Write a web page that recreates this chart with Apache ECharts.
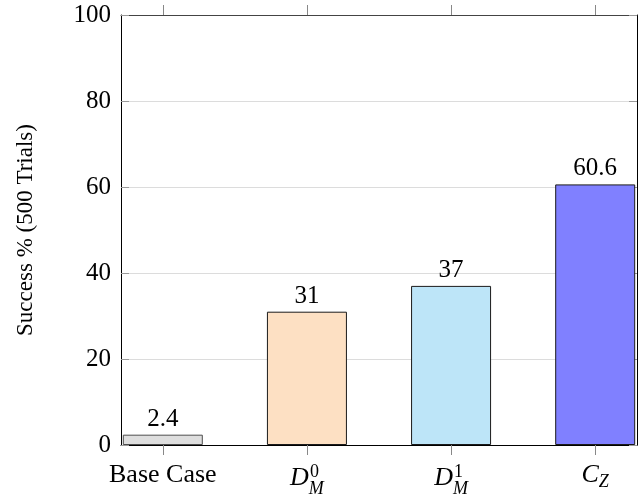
<!DOCTYPE html>
<html>
<head>
<meta charset="utf-8">
<script src="https://cdn.jsdelivr.net/npm/echarts@6/dist/echarts.min.js"></script>
<style>html,body{margin:0;padding:0;background:#fff}#c{width:644px;height:498px}</style>
</head>
<body>
<div id="c"></div>
<script>
// ---- data ----
const labelMain = ['Base Case', 'D', 'D', 'C'];
const labelSub = ['', 'M', 'M', 'Z'];
const labelSup = ['', '0', '1', ''];
const values = [2.4, 31, 37, 60.6];
const fillColors = ['#dedede', '#fde0c3', '#bde5f8', '#8080ff'];
const borderColors = ['#4d4d4d', '#1a1a1a', '#1a1a1a', '#1a1a1a'];
const yMin = 0, yMax = 100, yStep = 20;
const yTitle = 'Success % (500 Trials)';

const FONT = 'Liberation Serif';
const positions = labelMain.map((_, i) => i);
const supPositions = positions.filter(i => labelSup[i] !== '');

const chart = echarts.init(document.getElementById('c'), null, {renderer: 'canvas'});

const xMin = -0.29, xMax = positions.length - 1 + 0.29;

chart.setOption({
  animation: false,
  backgroundColor: '#fff',
  grid: {left: 121, right: 7, top: 15, bottom: 53, containLabel: false},
  xAxis: [
    {
      type: 'value', position: 'bottom', min: xMin, max: xMax,
      axisLine: {show: true, onZero: false, lineStyle: {color: '#000', width: 1}},
      axisTick: {show: true, inside: false, length: 10, customValues: positions, lineStyle: {color: '#888'}},
      splitLine: {show: false},
      axisLabel: {
        show: true, customValues: positions, margin: 15,
        fontFamily: FONT, fontSize: 26, color: '#000', lineHeight: 30,
        formatter: function (v) {
          const i = Math.round(v);
          if (!labelSub[i]) return '{rm|' + labelMain[i] + '}';
          if (labelSup[i]) return '{itS|' + labelMain[i] + '}{subS|' + labelSub[i] + '}';
          return '{it|' + labelMain[i] + '}{sub|' + labelSub[i] + '}';
        },
        rich: {
          rm: {fontFamily: FONT, fontSize: 26, lineHeight: 30, color: '#000'},
          it: {fontFamily: FONT, fontSize: 26, fontStyle: 'italic', lineHeight: 30, color: '#000'},
          sub: {fontFamily: FONT, fontSize: 18, fontStyle: 'italic', lineHeight: 30, padding: [14, 0, 0, 0], color: '#000'},
          itS: {fontFamily: FONT, fontSize: 26, fontStyle: 'italic', lineHeight: 30, padding: [6, 0, 0, 0], color: '#000'},
          subS: {fontFamily: FONT, fontSize: 18, fontStyle: 'italic', lineHeight: 30, padding: [28, 0, 0, 0], color: '#000'}
        }
      }
    },
    {
      type: 'value', position: 'bottom', min: xMin, max: xMax,
      axisLine: {show: false, onZero: false}, axisTick: {show: false}, splitLine: {show: false},
      axisLabel: {
        show: true, customValues: supPositions, margin: 17, align: 'left',
        fontFamily: FONT, fontSize: 18, lineHeight: 20, color: '#000', padding: [0, 0, 0, 3],
        formatter: function (v) { return labelSup[Math.round(v)]; }
      }
    },
    {
      type: 'value', position: 'top', min: xMin, max: xMax,
      axisLine: {show: true, onZero: false, lineStyle: {color: '#444', width: 1}},
      axisTick: {show: true, inside: false, length: 10, customValues: positions, lineStyle: {color: '#888'}},
      splitLine: {show: false}, axisLabel: {show: false}
    }
  ],
  yAxis: [
    {
      type: 'value', position: 'left', min: yMin, max: yMax, interval: yStep,
      name: yTitle, nameLocation: 'middle', nameRotate: 90, nameGap: 84,
      nameTextStyle: {fontFamily: FONT, fontSize: 23, color: '#000'},
      axisLine: {show: true, onZero: false, lineStyle: {color: '#000', width: 1}},
      axisTick: {show: true, inside: true, length: 8, lineStyle: {color: '#999'}},
      splitLine: {show: true, lineStyle: {color: '#dcdcdc', width: 1}},
      axisLabel: {fontFamily: FONT, fontSize: 25, color: '#000', margin: 10}
    },
    {
      type: 'value', position: 'right', min: yMin, max: yMax, interval: yStep,
      axisLine: {show: true, onZero: false, lineStyle: {color: '#000', width: 1}},
      axisTick: {show: true, inside: true, length: 8, lineStyle: {color: '#999'}},
      splitLine: {show: false}, axisLabel: {show: false}
    }
  ],
  series: [{
    type: 'bar', xAxisIndex: 0, yAxisIndex: 0, barWidth: 80,
    data: values.map((v, i) => ({
      value: [positions[i], v],
      itemStyle: {color: fillColors[i], borderColor: borderColors[i], borderWidth: 1}
    })),
    label: {
      show: true, position: 'top', distance: 3,
      fontFamily: FONT, fontSize: 25, color: '#000',
      formatter: p => String(p.value[1])
    }
  }]
});
</script>
</body>
</html>
